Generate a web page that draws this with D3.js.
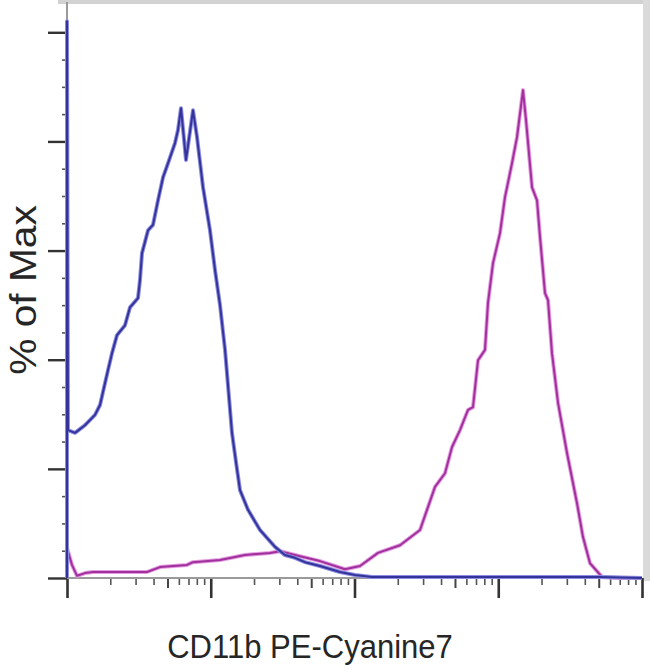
<!DOCTYPE html>
<html>
<head>
<meta charset="utf-8">
<script src="https://cdn.jsdelivr.net/npm/d3@7"></script>
<style>
  html, body { margin: 0; padding: 0; background: #fff; }
  svg { display: block; }
  text { font-family: "Liberation Sans", Arial, sans-serif; fill: #262626; }
</style>
</head>
<body>
<svg id="chart" width="650" height="672"></svg>
<script>
// ---- data (fluorescence intensity, % of max) ----
const blueX = [10, 10, 10.16, 11.37, 13.34, 15.66, 16.97, 17.8, 19.29, 20.56, 22.27, 25.32, 27.44, 31.18, 32.19, 33.24, 36.6, 39.65, 42.96, 46.55, 50.43, 56.4, 59.18, 62.09, 67.27, 75.24, 80.24, 88.34, 98.8, 107.1, 116.0, 125.7, 140.5, 149.9, 159.8, 181.6, 220.1, 279.9, 328.6, 385.6, 452.6, 575.4, 792.7, 1008, 1323, 2856, 51040, 100000];
const blueY = [0, 102, 27.1, 26.6, 28.0, 29.9, 31.7, 34.1, 38.1, 41.2, 44.5, 46.3, 49.6, 51.3, 54.6, 59.5, 63.7, 64.7, 69.2, 73.4, 76.0, 79.7, 82.1, 86.1, 76.6, 85.7, 80.8, 71.6, 63.7, 56.4, 50.0, 41.8, 26.6, 21.2, 16.1, 12.5, 8.8, 5.7, 4.2, 3.7, 2.9, 2.2, 1.1, 0.55, 0.2, 0.2, 0.2, 0];

const magentaX = [10, 10.83, 11.74, 13.34, 15.17, 36.01, 44.36, 68.36, 75.24, 116.0, 173.1, 258.4, 303.2, 417.8, 575.4, 858.9, 1092, 1457, 2073, 2856, 3631, 4262, 4768, 5418, 6160, 6673, 7230, 8086, 8485, 9196, 10285, 11143, 12463, 13505, 14867, 15600, 17177, 18607, 19520, 21150, 22190, 23650, 26050, 30090, 35310, 38870, 43480, 52700, 70300, 100000];
const magentaY = [5.5, 2.4, 0.4, 0.9, 1.1, 1.1, 2.0, 2.4, 2.9, 3.3, 4.2, 4.6, 4.9, 4.0, 3.1, 1.6, 2.2, 4.6, 6.0, 8.8, 16.7, 19.2, 24.0, 27.1, 30.8, 31.3, 39.9, 41.8, 50.4, 57.7, 63.2, 69.8, 76.0, 80.8, 89.4, 83.9, 71.6, 69.2, 62.5, 52.2, 50.9, 41.2, 32.1, 22.9, 13.7, 7.5, 2.7, 0.2, 0, 0];

const xMajorTicks = [1e1, 1e2, 1e3, 1e4, 1e5];
const yMajorTicks = [0, 20, 40, 60, 80, 100];
const xLabel = "CD11b PE-Cyanine7";
const yLabel = "% of Max";

// ---- layout ----
const svg = d3.select("#chart");
const padL = 67, padR = 642, padT = 5, padB = 578;

const x = d3.scaleLog().domain([1e1, 1e5]).range([padL, padR]);
const y = d3.scaleLinear().domain([0, 105]).range([padB, padT]);

// frame shading (top and right edges)
svg.append("rect").attr("x", 58).attr("y", 0).attr("width", 592).attr("height", 4).attr("fill", "#d2d2d2");
svg.append("rect").attr("x", 643).attr("y", 0).attr("width", 7).attr("height", 581).attr("fill", "#dadada");

// minor ticks
const xMinor = [];
for (let d = 1; d < 5; d++) for (let k = 2; k <= 9; k++) xMinor.push(k * Math.pow(10, d));
const xMid = xMinor.filter(v => Math.round(v / Math.pow(10, Math.floor(Math.log10(v) + 1e-9))) === 5);
const xSmall = xMinor.filter(v => !xMid.includes(v));
const yMinor = d3.range(0, 101, 5).filter(v => v % 20 !== 0);

function styleAxis(g, color, width) {
  g.select(".domain").remove();
  g.selectAll(".tick line").attr("stroke", color).attr("stroke-width", width);
  g.selectAll(".tick text").remove();
}

svg.append("g").attr("transform", `translate(0,${padB})`)
  .call(d3.axisBottom(x).tickValues(xSmall).tickSize(7).tickFormat(""))
  .call(g => styleAxis(g, "#555", 1.6));
svg.append("g").attr("transform", `translate(0,${padB})`)
  .call(d3.axisBottom(x).tickValues(xMid).tickSize(10).tickFormat(""))
  .call(g => styleAxis(g, "#444", 2));
svg.append("g").attr("transform", `translate(0,${padB})`)
  .call(d3.axisBottom(x).tickValues(xMajorTicks).tickSize(20).tickFormat(""))
  .call(g => styleAxis(g, "#333", 2.6));

svg.append("g").attr("transform", `translate(${padL},0)`)
  .call(d3.axisLeft(y).tickValues(yMinor).tickSize(5).tickFormat(""))
  .call(g => styleAxis(g, "#555", 1.6));
svg.append("g").attr("transform", `translate(${padL},0)`)
  .call(d3.axisLeft(y).tickValues(yMajorTicks).tickSize(19).tickFormat(""))
  .call(g => styleAxis(g, "#333", 2.4));

// axis lines
svg.append("line").attr("x1", padL).attr("x2", padR).attr("y1", padB).attr("y2", padB)
  .attr("stroke", "#9a9a9a").attr("stroke-width", 2);
svg.append("line").attr("x1", padL).attr("x2", padL).attr("y1", padT - 3).attr("y2", padB)
  .attr("stroke", "#9a9a9a").attr("stroke-width", 2);

// series
const line = d3.line().x(d => x(d[0])).y(d => y(d[1]));
const magenta = magentaX.map((v, i) => [v, magentaY[i]]);
const blue = blueX.map((v, i) => [v, blueY[i]]);

svg.append("path").datum(magenta).attr("d", line)
  .attr("fill", "none").attr("stroke", "#e49ae0").attr("stroke-width", 4).attr("stroke-linejoin", "round");
svg.append("path").datum(magenta).attr("d", line)
  .attr("fill", "none").attr("stroke", "#a0309c").attr("stroke-width", 2).attr("stroke-linejoin", "round");

svg.append("path").datum(blue).attr("d", line)
  .attr("fill", "none").attr("stroke", "#8c8ce0").attr("stroke-width", 4).attr("stroke-linejoin", "round");
svg.append("path").datum(blue).attr("d", line)
  .attr("fill", "none").attr("stroke", "#33339a").attr("stroke-width", 2).attr("stroke-linejoin", "round");

// labels
svg.append("text").attr("transform", "translate(310,658) scale(0.94,1)").attr("text-anchor", "middle")
  .style("font-size", "33px").text(xLabel);
svg.append("text").attr("transform", "translate(36,290) rotate(-90) scale(1.1,1)").attr("text-anchor", "middle")
  .style("font-size", "37px").text(yLabel);
</script>
</body>
</html>
